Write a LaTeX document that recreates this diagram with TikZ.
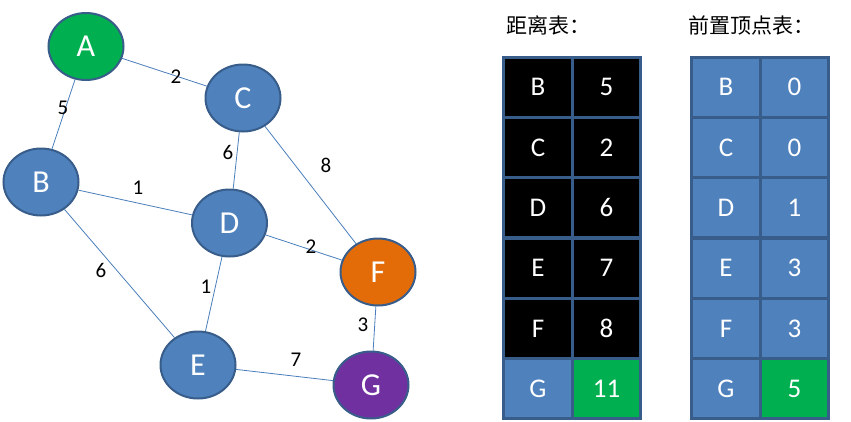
\documentclass[tikz,border=0pt]{standalone}
\usepackage{fontspec}
\setmainfont{Carlito}
\newfontfamily\cjk{Noto Sans CJK SC}
\usetikzlibrary{shapes.geometric}
\definecolor{nblue}{HTML}{4F81BD}
\definecolor{nborder}{HTML}{385D8A}
\definecolor{ngreen}{HTML}{00B050}
\definecolor{norange}{HTML}{E36C09}
\definecolor{npurple}{HTML}{7030A0}
\definecolor{eline}{HTML}{4A7EBB}
\tikzset{
  vtx/.style={ellipse, draw=nborder, line width=2pt, fill=nblue, text=white,
    minimum width=75pt, minimum height=67pt, inner sep=0pt,
    font=\fontsize{32}{32}\selectfont},
  edge/.style={draw=eline, line width=0.8pt},
  elab/.style={font=\fontsize{21}{21}\selectfont, inner sep=0pt},
  cell/.style={rectangle, draw=nborder, line width=3pt, text=white,
    minimum width=68.5pt, minimum height=60.3pt, inner sep=0pt,
    font=\fontsize{27}{27}\selectfont},
  ttl/.style={font=\cjk\fontsize{21}{21}\selectfont, anchor=west, inner sep=0pt}
}
\begin{document}
\begin{tikzpicture}[x=1pt,y=-1pt]
\useasboundingbox (0,0) rectangle (851,421);
% vertices
\node[vtx, fill=ngreen] (A) at (86,46.5) {A};
\node[vtx] (C) at (243,98) {C};
\node[vtx] (B) at (41,182) {B};
\node[vtx] (D) at (229.5,223) {D};
\node[vtx, fill=norange] (F) at (378,272) {F};
\node[vtx] (E) at (198,365) {E};
\node[vtx, fill=npurple] (G) at (371,385) {G};
% edges
\draw[edge] (A) -- (C);
\draw[edge] (A) -- (B);
\draw[edge] (C) -- (D);
\draw[edge] (C) -- (F);
\draw[edge] (B) -- (D);
\draw[edge] (B) -- (E);
\draw[edge] (D) -- (F);
\draw[edge] (D) -- (E);
\draw[edge] (F) -- (G);
\draw[edge] (E) -- (G);
% edge labels
\node[elab] (l1) at (176,77) {2};
\node[elab] (l2) at (63,108) {5};
\node[elab] (l3) at (228,152) {6};
\node[elab] (l4) at (326,165) {8};
\node[elab] (l5) at (138,188) {1};
\node[elab] (l6) at (311,247) {2};
\node[elab] (l7) at (101,270) {6};
\node[elab] (l8) at (206,287) {1};
\node[elab] (l9) at (363,325) {3};
\node[elab] (l10) at (296,360) {7};
% titles
\node[ttl] (t1) at (506,25) {距离表：};
\node[ttl] (t2) at (688,25) {前置顶点表：};
% distance table
\node[cell, fill=black] (d1a) at (538,87.2) {B};
\node[cell, fill=black] (d1b) at (606.5,87.2) {5};
\node[cell, fill=black] (d2a) at (538,147.5) {C};
\node[cell, fill=black] (d2b) at (606.5,147.5) {2};
\node[cell, fill=black] (d3a) at (538,207.8) {D};
\node[cell, fill=black] (d3b) at (606.5,207.8) {6};
\node[cell, fill=black] (d4a) at (538,268.2) {E};
\node[cell, fill=black] (d4b) at (606.5,268.2) {7};
\node[cell, fill=black] (d5a) at (538,328.5) {F};
\node[cell, fill=black] (d5b) at (606.5,328.5) {8};
\node[cell, fill=nblue] (d6a) at (538,388.8) {G};
\node[cell, fill=ngreen] (d6b) at (606.5,388.8) {11};
% predecessor table
\node[cell, fill=nblue] (p1a) at (726,87.2) {B};
\node[cell, fill=nblue] (p1b) at (794.5,87.2) {0};
\node[cell, fill=nblue] (p2a) at (726,147.5) {C};
\node[cell, fill=nblue] (p2b) at (794.5,147.5) {0};
\node[cell, fill=nblue] (p3a) at (726,207.8) {D};
\node[cell, fill=nblue] (p3b) at (794.5,207.8) {1};
\node[cell, fill=nblue] (p4a) at (726,268.2) {E};
\node[cell, fill=nblue] (p4b) at (794.5,268.2) {3};
\node[cell, fill=nblue] (p5a) at (726,328.5) {F};
\node[cell, fill=nblue] (p5b) at (794.5,328.5) {3};
\node[cell, fill=nblue] (p6a) at (726,388.8) {G};
\node[cell, fill=ngreen] (p6b) at (794.5,388.8) {5};
\end{tikzpicture}
\end{document}
